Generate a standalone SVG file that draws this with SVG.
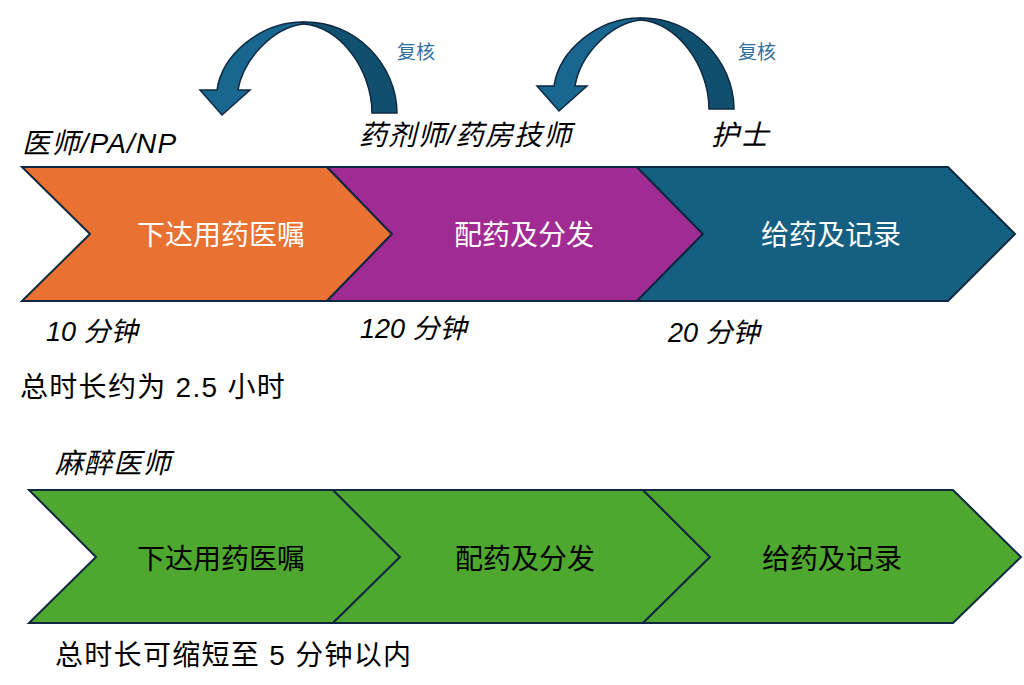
<svg xmlns="http://www.w3.org/2000/svg" width="1024" height="685" viewBox="0 0 1024 685">
<style>
  text { font-family: "Liberation Sans", "Noto Sans CJK SC", sans-serif; }
  .chev { stroke: #0E2841; stroke-width: 2; stroke-linejoin: miter; }
  .orange { fill: #E97132; }
  .purple { fill: #A02B93; }
  .blue { fill: #156082; }
  .green { fill: #4EA72E; }
  .inW { fill: #ffffff; font-size: 28px; text-anchor: middle; }
  .inB { fill: #000000; font-size: 28px; text-anchor: middle; }
  .lab { fill: #000000; font-size: 28px; font-style: italic; letter-spacing: 1.2px; }
  .tim { fill: #000000; font-size: 27px; font-style: italic; }
  .tot { fill: #000000; font-size: 28px; letter-spacing: 1.3px; }
  .chk { fill: #2F6F9E; font-size: 19px; }
  .arrF { fill: #19668F; stroke: #0E2841; stroke-width: 1.5; stroke-linejoin: miter; }
  .arrB { fill: #114F6E; stroke: #0E2841; stroke-width: 1.5; }
</style>
<defs>
  <g id="curved">
    <path class="arrB" d="M303,22 C355,20 397,65 397,113 L372,113 C372,70 340,26 303,24 Z"/>
    <path class="arrF" d="M303,22 C260,22 222,55 217,90 L200,90 L222,115 L250,90 L238,90 C243,60 272,28 303,24 Z"/>
  </g>
</defs>
<rect width="1024" height="685" fill="#ffffff"/>

<g id="connectors">
  <use href="#curved"/>
  <use href="#curved" transform="translate(337,-4)"/>
</g>

<g id="labels-top">
  <text class="chk" x="397" y="59">复核</text>
  <text class="chk" x="738" y="59">复核</text>
  <text class="lab" x="22" y="153">医师/PA/NP</text>
  <text class="lab" x="359" y="145">药剂师/药房技师</text>
  <text class="lab" x="711" y="145">护士</text>
</g>

<g id="node-order">
  <polygon class="chev orange" points="22,167 327,167 392,234 327,301 22,301 90,234"/>
  <text class="inW" x="221" y="245">下达用药医嘱</text>
</g>
<g id="node-dispense">
  <polygon class="chev purple" points="327,167 637,167 703,234 637,301 327,301 392,234"/>
  <text class="inW" x="524" y="245">配药及分发</text>
</g>
<g id="node-administer">
  <polygon class="chev blue" points="637,167 948,167 1015,234 948,301 637,301 703,234"/>
  <text class="inW" x="831" y="245">给药及记录</text>
</g>

<g id="labels-time">
  <text class="tim" x="46" y="341">10 分钟</text>
  <text class="tim" x="360" y="338">120 分钟</text>
  <text class="tim" x="668" y="342">20 分钟</text>
  <text class="tot" x="20" y="397">总时长约为 2.5 小时</text>
  <text class="lab" x="55" y="473">麻醉医师</text>
</g>

<g id="node-order-b">
  <polygon class="chev green" points="29,490 333,490 400,557 333,623 29,623 96,557"/>
  <text class="inB" x="221" y="569">下达用药医嘱</text>
</g>
<g id="node-dispense-b">
  <polygon class="chev green" points="333,490 643,490 710,557 643,623 333,623 400,557"/>
  <text class="inB" x="525" y="569">配药及分发</text>
</g>
<g id="node-administer-b">
  <polygon class="chev green" points="643,490 953,490 1021,557 953,623 643,623 710,557"/>
  <text class="inB" x="832" y="569">给药及记录</text>
</g>

<g id="label-bottom">
  <text class="tot" x="55" y="665">总时长可缩短至 5 分钟以内</text>
</g>
</svg>
